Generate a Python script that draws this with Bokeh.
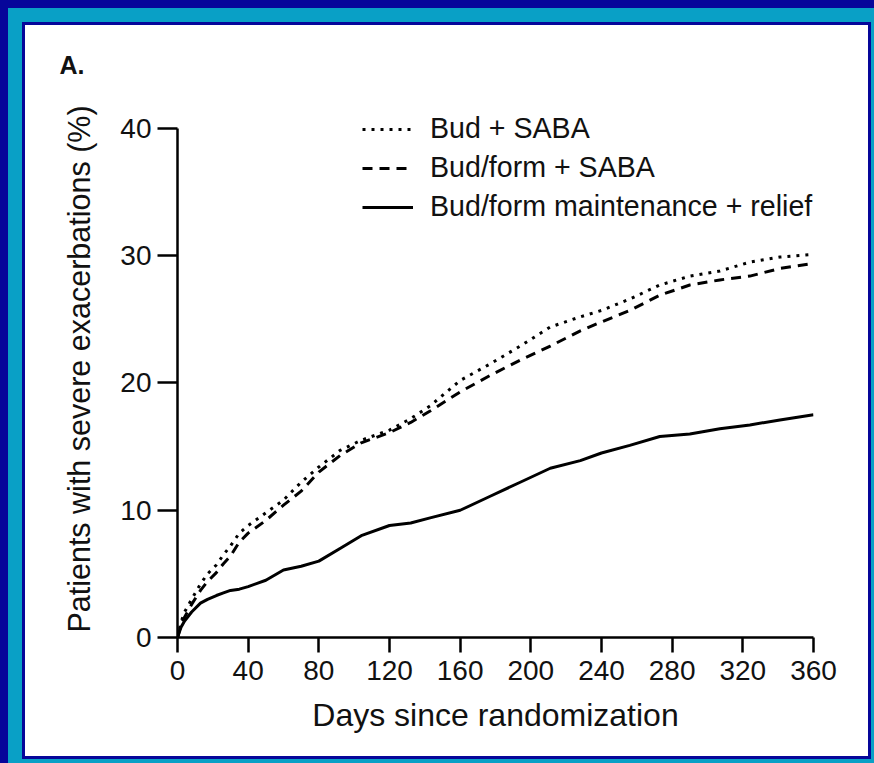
from bokeh.plotting import figure
from bokeh.models import Legend, LegendItem, FixedTicker, Range1d
from bokeh.embed import file_html
from bokeh.resources import INLINE

# Days since randomization
days = [0, 2, 4, 8, 13, 17, 22, 26, 30, 35, 40, 50, 60, 70, 80, 92, 104, 120, 132, 143,
        160, 177, 194, 211, 228, 240, 256, 273, 290, 307, 324, 341, 360]

# Patients with severe exacerbations (%)
bud_saba = [0, 1.2, 2.0, 3.0, 4.2, 5.0, 5.7, 6.5, 7.2, 8.2, 8.8, 9.8, 10.8, 12.2, 13.4, 14.7,
            15.5, 16.3, 17.2, 18.2, 20.2, 21.5, 22.9, 24.4, 25.2, 25.7, 26.6, 27.7, 28.4,
            28.8, 29.5, 29.9, 30.1]
budform_saba = [0, 1.0, 1.6, 2.6, 3.7, 4.4, 5.1, 5.8, 6.4, 7.5, 8.2, 9.2, 10.4, 11.5, 13.0,
                14.3, 15.3, 16.1, 16.9, 17.8, 19.3, 20.6, 21.8, 22.9, 24.1, 24.8, 25.7, 26.9,
                27.7, 28.1, 28.4, 29.0, 29.4]
budform_smart = [0, 0.8, 1.3, 2.0, 2.7, 3.0, 3.3, 3.5, 3.7, 3.8, 4.0, 4.5, 5.3, 5.6, 6.0,
                 7.0, 8.0, 8.8, 9.0, 9.4, 10.0, 11.1, 12.2, 13.3, 13.9, 14.5, 15.1, 15.8,
                 16.0, 16.4, 16.7, 17.1, 17.5]

series_names = ["Bud + SABA", "Bud/form + SABA", "Bud/form maintenance + relief"]
x_ticks = [0, 40, 80, 120, 160, 200, 240, 280, 320, 360]
y_ticks = [0, 10, 20, 30, 40]

FONT = "Liberation Sans"
NAVY = "#06069a"
CYAN = "#09a0c6"

p = figure(width=843, height=731,
           x_range=Range1d(0, 360), y_range=Range1d(0, 42.2),
           output_backend="svg", toolbar_location=None,
           min_border_left=152, min_border_right=55,
           min_border_top=75, min_border_bottom=119,
           background_fill_color="white", border_fill_color="white",
           outline_line_color=None,
           styles={"margin-left": "25px", "margin-top": "25px",
                   "box-shadow": f"0 0 0 3px {NAVY}, 0 0 0 17px {CYAN}, 0 0 0 60px {NAVY}"})

p.title.text = "A."
p.title.align = "left"
p.title.offset = -118
p.title.standoff = 44
p.title.text_font = FONT
p.title.text_font_size = "25px"
p.title.text_font_style = "bold"
p.title.text_color = "#111111"

p.xgrid.visible = False
p.ygrid.visible = False

r1 = p.line(days, bud_saba, line_color="black", line_width=3, line_dash="3 6")
r2 = p.line(days, budform_saba, line_color="black", line_width=3, line_dash="10 7")
r3 = p.line(days, budform_smart, line_color="black", line_width=3)

for ax in (p.xaxis[0], p.yaxis[0]):
    ax.axis_line_width = 2.5
    ax.axis_line_color = "black"
    ax.major_tick_line_width = 2.5
    ax.major_tick_line_color = "black"
    ax.major_tick_in = 0
    ax.minor_tick_line_color = None
    ax.major_label_text_font = FONT
    ax.major_label_text_font_size = "28px"
    ax.major_label_text_color = "#111111"
    ax.axis_label_text_font = FONT
    ax.axis_label_text_font_style = "normal"
    ax.axis_label_text_color = "#111111"

p.xaxis[0].ticker = FixedTicker(ticks=x_ticks)
p.yaxis[0].ticker = FixedTicker(ticks=y_ticks)
p.xaxis[0].bounds = (0, 360)
p.yaxis[0].bounds = (0, 40)
p.xaxis[0].major_tick_out = 15
p.yaxis[0].major_tick_out = 20
p.xaxis[0].major_label_standoff = 8
p.yaxis[0].major_label_standoff = 6
p.xaxis[0].axis_label = "Days since randomization"
p.yaxis[0].axis_label = "Patients with severe exacerbations (%)"
p.xaxis[0].axis_label_text_font_size = "32px"
p.yaxis[0].axis_label_text_font_size = "30.5px"
p.xaxis[0].axis_label_standoff = 14
p.yaxis[0].axis_label_standoff = 21

legend = Legend(items=[LegendItem(label=series_names[0], renderers=[r1]),
                       LegendItem(label=series_names[1], renderers=[r2]),
                       LegendItem(label=series_names[2], renderers=[r3])],
                location=(185, 414), orientation="vertical",
                label_text_font=FONT, label_text_font_size="28.6px",
                label_text_color="#111111",
                glyph_width=51, glyph_height=30, label_height=30,
                label_standoff=17, spacing=6, padding=0, margin=0,
                border_line_color=None, background_fill_alpha=0)
p.add_layout(legend, "center")

open("out.html", "w").write(file_html(p, INLINE))
